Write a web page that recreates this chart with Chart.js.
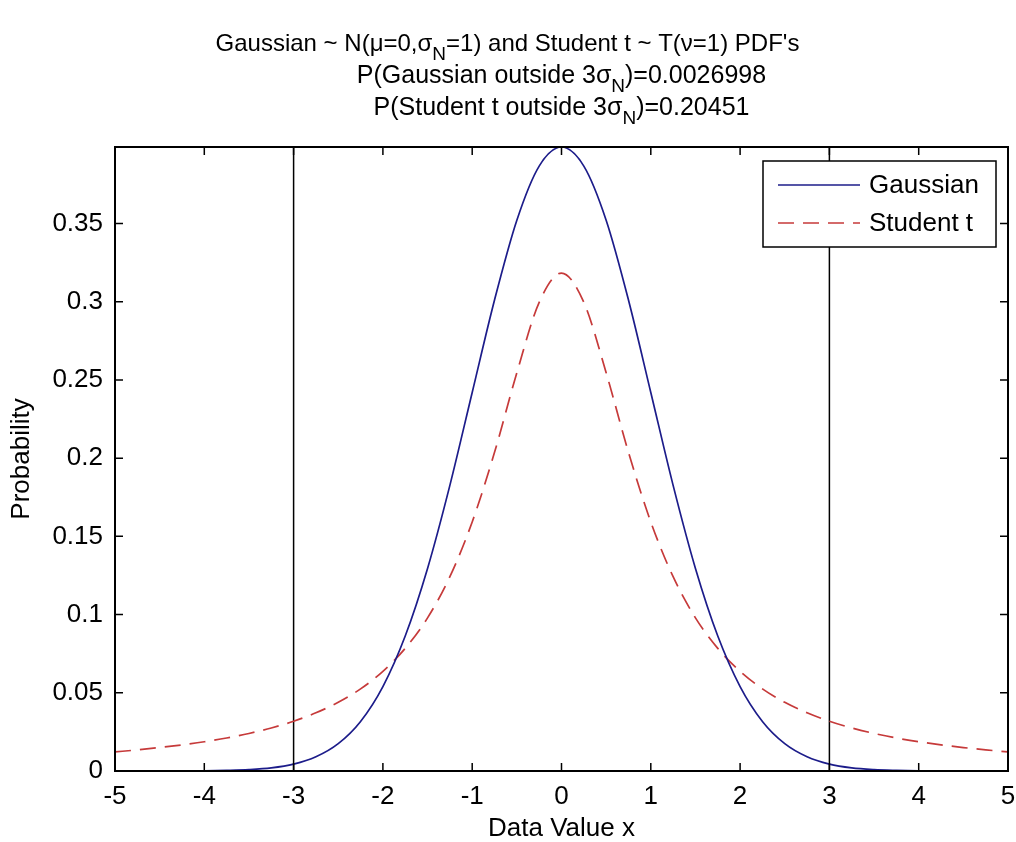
<!DOCTYPE html>
<html>
<head>
<meta charset="utf-8">
<title>Gaussian vs Student t PDF</title>
<script src="https://cdn.jsdelivr.net/npm/chart.js@4.4.1/dist/chart.umd.min.js"></script>
<style>
  html, body { margin: 0; padding: 0; background: #fff; }
  #wrap { width: 1016px; height: 842px; position: relative; }
</style>
</head>
<body>
<div id="wrap"><canvas id="myChart"></canvas></div>
<script>
// values, x from -5 to 5 every 0.25
const xValues = [
  -5, -4.75, -4.5, -4.25, -4, -3.75, -3.5, -3.25, -3, -2.75, -2.5, -2.25, -2, -1.75, -1.5, -1.25, -1, -0.75, -0.5, -0.25,
  0, 0.25, 0.5, 0.75, 1, 1.25, 1.5, 1.75, 2, 2.25, 2.5, 2.75, 3, 3.25, 3.5, 3.75, 4, 4.25, 4.5, 4.75, 5
];
const gaussianPdf = [
  0.0000, 0.0000, 0.0000, 0.0000, 0.0001, 0.0004, 0.0009, 0.0020, 0.0044, 0.0091, 0.0175, 0.0317, 0.0540, 0.0863, 0.1295, 0.1826, 0.2420, 0.3011, 0.3521, 0.3867,
  0.3989, 0.3867, 0.3521, 0.3011, 0.2420, 0.1826, 0.1295, 0.0863, 0.0540, 0.0317, 0.0175, 0.0091, 0.0044, 0.0020, 0.0009, 0.0004, 0.0001, 0.0000, 0.0000, 0.0000, 0.0000
];
const studentPdf = [
  0.0122, 0.0135, 0.0150, 0.0167, 0.0187, 0.0211, 0.0240, 0.0275, 0.0318, 0.0372, 0.0439, 0.0525, 0.0637, 0.0784, 0.0979, 0.1242, 0.1592, 0.2037, 0.2546, 0.2996,
  0.3183, 0.2996, 0.2546, 0.2037, 0.1592, 0.1242, 0.0979, 0.0784, 0.0637, 0.0525, 0.0439, 0.0372, 0.0318, 0.0275, 0.0240, 0.0211, 0.0187, 0.0167, 0.0150, 0.0135, 0.0122
];
const thresholds = [-3, 3];
const xTicks = [-5, -4, -3, -2, -1, 0, 1, 2, 3, 4, 5];
const yTicks = [0, 0.05, 0.1, 0.15, 0.2, 0.25, 0.3, 0.35];
const yTickLabels = ["0", "0.05", "0.1", "0.15", "0.2", "0.25", "0.3", "0.35"];
const yMax = 0.3989;
const seriesNames = ["Gaussian", "Student t"];
const titleLines = [
  [["Gaussian ~ N(\u03bc=0,\u03c3"], ["N", 1], ["=1) and Student t ~ T(\u03bd=1) PDF's"]],
  [["P(Gaussian outside 3\u03c3"], ["N", 1], [")=0.0026998"]],
  [["P(Student t outside 3\u03c3"], ["N", 1], [")=0.20451"]]
];

const FONT = "'Liberation Sans', Arial, sans-serif";
const blue = "#1c1c8a";
const red = "#c63a3a";

const pts = (ys) => xValues.map((x, i) => ({ x: x, y: ys[i] }));
const vline = (x) => [{ x: x, y: 0 }, { x: x, y: yMax }];

const matlabLook = {
  id: "matlabLook",
  afterDraw(chart) {
    const ctx = chart.ctx;
    const a = chart.chartArea;
    const xs = chart.scales.x;
    const ys = chart.scales.y;
    ctx.save();

    // box + inward ticks
    ctx.strokeStyle = "#000";
    ctx.lineWidth = 2;
    ctx.strokeRect(a.left, a.top, a.right - a.left, a.bottom - a.top);
    ctx.lineWidth = 1.5;
    const tl = 8;
    ctx.beginPath();
    xTicks.forEach((v) => {
      const px = xs.getPixelForValue(v);
      ctx.moveTo(px, a.bottom); ctx.lineTo(px, a.bottom - tl);
      ctx.moveTo(px, a.top); ctx.lineTo(px, a.top + tl);
    });
    yTicks.forEach((v) => {
      const py = ys.getPixelForValue(v);
      ctx.moveTo(a.left, py); ctx.lineTo(a.left + tl, py);
      ctx.moveTo(a.right, py); ctx.lineTo(a.right - tl, py);
    });
    ctx.stroke();

    // legend box, top right inside the axes
    const bw = 233, bh = 86;
    const bx = a.right - 12 - bw, by = a.top + 14;
    ctx.fillStyle = "#fff";
    ctx.fillRect(bx, by, bw, bh);
    ctx.lineWidth = 1.5;
    ctx.strokeStyle = "#000";
    ctx.strokeRect(bx, by, bw, bh);
    ctx.font = "26px " + FONT;
    ctx.textBaseline = "middle";
    ctx.textAlign = "left";
    [0, 1].forEach((i) => {
      const ds = chart.data.datasets[i];
      const ly = by + 24 + i * 38;
      ctx.beginPath();
      ctx.strokeStyle = ds.borderColor;
      ctx.lineWidth = ds.borderWidth;
      ctx.setLineDash(ds.borderDash || []);
      ctx.moveTo(bx + 15, ly); ctx.lineTo(bx + 97, ly);
      ctx.stroke();
      ctx.setLineDash([]);
      ctx.fillStyle = "#000";
      ctx.fillText(ds.label, bx + 106, ly + 1);
    });

    // three-line title with subscripts
    const cx = (a.left + a.right) / 2;
    titleLines.forEach((segs, i) => {
      const y = 44 + i * 32;
      const big = i === 0 ? 24 : 25;
      const fontOf = (s) => (s[1] ? "19px " : big + "px ") + FONT;
      let w = 0;
      segs.forEach((s) => {
        ctx.font = fontOf(s);
        w += ctx.measureText(s[0]).width;
      });
      let x = (i === 0 ? cx - 54 : cx) - w / 2;
      segs.forEach((s) => {
        ctx.font = fontOf(s);
        ctx.fillStyle = "#000";
        ctx.fillText(s[0], x, s[1] ? y + 11 : y);
        x += ctx.measureText(s[0]).width;
      });
    });
    ctx.restore();
  }
};

const ctx = document.getElementById("myChart");
const myChart = new Chart(ctx, {
  type: "line",
  data: {
    datasets: [
      {
        label: seriesNames[0],
        data: pts(gaussianPdf),
        borderColor: blue,
        borderWidth: 1.7,
        pointRadius: 0,
        cubicInterpolationMode: "monotone",
      },
      {
        label: seriesNames[1],
        data: pts(studentPdf),
        borderColor: red,
        borderWidth: 1.7,
        borderDash: [16, 9],
        pointRadius: 0,
        cubicInterpolationMode: "monotone",
      },
      ...thresholds.map((t) => ({
        label: "x=" + t,
        data: vline(t),
        borderColor: "#000",
        borderWidth: 1.5,
        pointRadius: 0,
      })),
    ],
  },
  options: {
    responsive: true,
    maintainAspectRatio: false,
    animation: false,
    layout: { padding: { top: 147, right: 0, left: 0, bottom: 0 } },
    plugins: {
      legend: { display: false },
      title: { display: false },
      tooltip: { enabled: false },
    },
    scales: {
      x: {
        type: "linear",
        min: -5,
        max: 5,
        afterFit: (s) => { s.height = 71; s.paddingRight = 8; s.paddingLeft = 0; },
        afterBuildTicks: (s) => { s.ticks = xTicks.map((v) => ({ value: v })); },
        grid: { display: false, drawTicks: false },
        border: { display: false },
        ticks: { color: "#000", font: { family: FONT, size: 26 }, padding: 10, maxRotation: 0, callback: (v) => String(v) },
        title: { display: true, text: "Data Value x", color: "#000", font: { family: FONT, size: 26, lineHeight: 1 }, padding: { top: 0, bottom: 0 } },
      },
      y: {
        type: "linear",
        min: 0,
        max: yMax,
        afterFit: (s) => { s.width = 115; },
        afterBuildTicks: (s) => { s.ticks = yTicks.map((v) => ({ value: v })); },
        grid: { display: false, drawTicks: false },
        border: { display: false },
        ticks: { color: "#000", font: { family: FONT, size: 26 }, padding: 12, callback: (v) => yTickLabels[yTicks.indexOf(v)] },
        title: { display: true, text: "Probability", color: "#000", font: { family: FONT, size: 26, lineHeight: 1 }, padding: { top: 9, bottom: 0 } },
      },
    },
  },
  plugins: [matlabLook],
});
</script>
</body>
</html>
